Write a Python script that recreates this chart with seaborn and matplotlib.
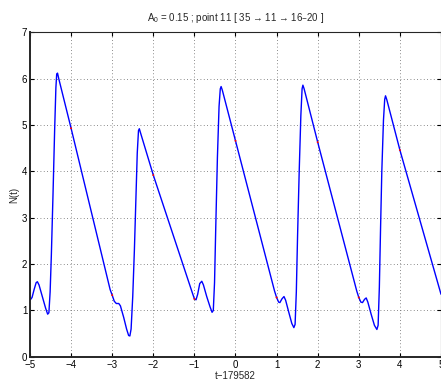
"""
Oscillation of N(t) around t = 179582, MATLAB-like look.
"""

import numpy as np
import pandas as pd
import seaborn as sns
import matplotlib.pyplot as plt

output_file = "out.png"

# curve (x = t - 179582)
t_vals = [
    -5.00, -4.95, -4.90, -4.85, -4.82, -4.78, -4.70, -4.62, -4.57, -4.54,
    -4.51, -4.48, -4.44, -4.40, -4.37, -4.35, -4.33, -4.30, -4.00,
    -3.05, -3.00, -2.95, -2.90, -2.84, -2.80, -2.72, -2.65, -2.60, -2.57,
    -2.54, -2.50, -2.46, -2.42, -2.39, -2.36, -2.34, -2.30, -2.00,
    -1.05, -1.00, -0.96, -0.92, -0.87, -0.82, -0.78, -0.70, -0.62, -0.57,
    -0.54, -0.51, -0.48, -0.44, -0.40, -0.37, -0.35, -0.32, 0.00,
    0.95, 1.00, 1.05, 1.08, 1.13, 1.18, 1.22, 1.30, 1.37, 1.42,
    1.45, 1.48, 1.51, 1.55, 1.59, 1.62, 1.64, 1.67, 2.00,
    2.95, 3.00, 3.05, 3.09, 3.14, 3.18, 3.22, 3.30, 3.38, 3.44,
    3.47, 3.50, 3.53, 3.56, 3.60, 3.63, 3.65, 3.68, 4.00, 5.00,
]
n_vals = [
    1.22, 1.28, 1.45, 1.60, 1.62, 1.55, 1.30, 1.05, 0.92, 0.95,
    1.40, 2.20, 3.50, 4.90, 5.80, 6.10, 6.12, 6.00, 4.93,
    1.45, 1.33, 1.20, 1.15, 1.15, 1.10, 0.85, 0.60, 0.46, 0.45,
    0.60, 1.30, 2.30, 3.50, 4.40, 4.88, 4.92, 4.80, 3.92,
    1.38, 1.25, 1.23, 1.35, 1.58, 1.63, 1.55, 1.30, 1.08, 0.96,
    1.00, 1.60, 2.80, 4.30, 5.40, 5.78, 5.83, 5.75, 4.66,
    1.42, 1.28, 1.18, 1.17, 1.25, 1.30, 1.22, 0.95, 0.72, 0.63,
    0.70, 1.40, 2.60, 4.00, 5.20, 5.78, 5.86, 5.78, 4.63,
    1.42, 1.28, 1.18, 1.17, 1.24, 1.27, 1.18, 0.92, 0.68, 0.59,
    0.68, 1.50, 2.80, 4.00, 5.10, 5.55, 5.63, 5.55, 4.46, 1.35,
]

# small red sample marks at integer t
mark_t = [-4, -3, -2, -1, 0, 1, 2, 3, 4]
mark_n = [4.93, 1.33, 3.92, 1.25, 4.66, 1.28, 4.63, 1.28, 4.46]

df = pd.DataFrame({"t": t_vals, "N": n_vals})
marks = pd.DataFrame({"t": mark_t, "N": mark_n})

sns.set_style("ticks")
plt.rcParams["font.family"] = ["Liberation Sans", "DejaVu Sans"]
plt.rcParams["mathtext.default"] = "regular"

fig = plt.figure(figsize=(4.41, 3.80), dpi=100)
ax = fig.add_axes([0.068, 0.061, 0.932, 0.854])

sns.lineplot(data=df, x="t", y="N", color="#0000ff", linewidth=1.0,
             sort=False, estimator=None, ax=ax)
sns.scatterplot(data=marks, x="t", y="N", color="red", s=2,
                edgecolor="none", zorder=3, ax=ax)

ax.set_xlim(-5, 5)
ax.set_ylim(0, 7)
ax.set_xticks(range(-5, 6))
ax.set_yticks(range(0, 8))
ax.grid(True, linestyle=(0, (1, 3)), color="#666666", linewidth=0.6)
ax.tick_params(direction="in", length=3, labelsize=7, pad=2,
               top=True, right=True, colors="black")
for side in ["left", "bottom"]:
    ax.spines[side].set_linewidth(1.4)
for side in ["top", "right"]:
    ax.spines[side].set_visible(True)
    ax.spines[side].set_linewidth(0.8)

ax.set_xlabel("t\u2212179582", fontsize=7, labelpad=1)
ax.set_ylabel("N(t)", fontsize=7, labelpad=2)
ax.set_title("A$_0$ = 0.15 ; point 11 [ 35 \u2192 11 \u2192 16\u201320 ]",
             fontsize=7, pad=8)

plt.savefig(output_file, dpi=100)
plt.close()
